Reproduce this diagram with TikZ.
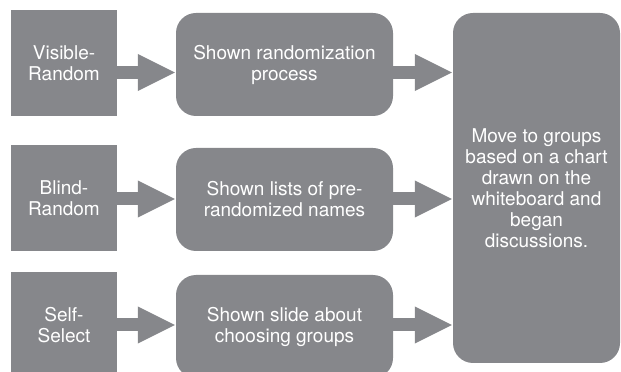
\documentclass[tikz,border=0pt]{standalone}
\usepackage{fontspec}
\setmainfont{TeX Gyre Heros}
\usetikzlibrary{arrows.meta}
\definecolor{boxgray}{RGB}{134,135,139}

\begin{document}
\begin{tikzpicture}[x=1pt, y=1pt,
	sqbox/.style={fill=boxgray, text=white, align=center, inner sep=0pt,
		minimum width=106pt, minimum height=106pt, font=\fontsize{19}{21}\selectfont},
	rbox/.style={sqbox, rounded corners=20pt, minimum width=217pt, minimum height=103pt},
	fatarrow/.style={draw=boxgray, line width=13pt, -{Triangle[length=38pt, width=34pt, fill=boxgray]}}]
	\clip (0,0) rectangle (621,372);
	% groups
	\node[sqbox] (visible) at (64,308.5) {Visible-\\Random};
	\node[sqbox] (blind) at (64,174) {Blind-\\Random};
	\node[sqbox] (self) at (64,47) {Self-\\Select};
	% what each group was shown
	\node[rbox] (process) at (284.5,307.5) {Shown randomization\\process};
	\node[rbox] (lists) at (284.5,172.5) {Shown lists of pre-\\randomized names};
	\node[rbox] (slide) at (284.5,45.5) {Shown slide about\\choosing groups};
	\node[rbox, minimum width=167pt, minimum height=350pt] (move) at (536.5,184)
		{Move to groups\\based on a chart\\drawn on the\\whiteboard and\\began\\discussions.};
	% arrow heights
	\coordinate (r1) at (0,299.5);
	\coordinate (r2) at (0,173);
	\coordinate (r3) at (0,47);
	\draw[fatarrow] (visible.east |- r1) -- (process.west |- r1);
	\draw[fatarrow] (blind.east |- r2) -- (lists.west |- r2);
	\draw[fatarrow] (self.east |- r3) -- (slide.west |- r3);
	\draw[fatarrow] (process.east |- r1) -- (move.west |- r1);
	\draw[fatarrow] (lists.east |- r2) -- (move.west |- r2);
	\draw[fatarrow] (slide.east |- r3) -- (move.west |- r3);
\end{tikzpicture}
\end{document}
